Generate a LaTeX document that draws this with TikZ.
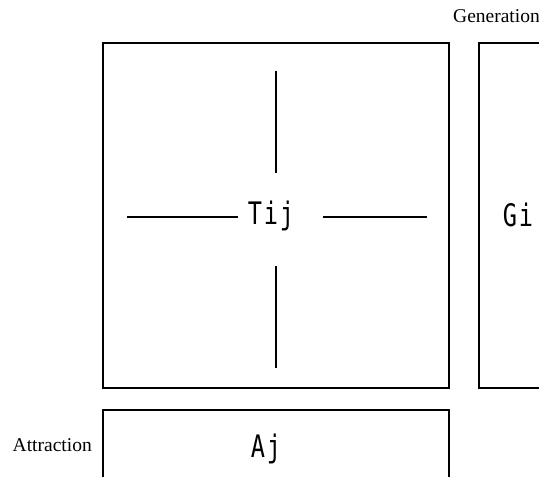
\documentclass[tikz,border=0pt]{standalone}
\usepackage{fontspec}
\setmainfont{Liberation Serif}
\newfontfamily\gothicfont[FakeStretch=0.76,LetterSpace=6]{DejaVu Sans Mono}
\tikzset{
  cell/.style={draw, line width=1.6pt, inner sep=0pt},
  cellname/.style={font=\gothicfont\fontsize{31}{31}\selectfont, inner sep=0pt},
  sidename/.style={font=\fontsize{19.5}{19.5}\selectfont, inner sep=0pt},
  crossline/.style={line width=1.2pt}
}
\begin{document}
\begin{tikzpicture}[x=1pt,y=-1pt]
                \clip (0,0) rectangle (539,477);
                % matrix and its margins
                \node[cell, anchor=north west, minimum width=346pt, minimum height=345pt] (tij) at (102,42) {};
                \node[cell, anchor=north west, minimum width=120pt, minimum height=345pt] (gi) at (478,42) {};
                \node[cell, anchor=north west, minimum width=346pt, minimum height=100pt] (aj) at (102,409) {};
                \node[cellname] (tijname) at (271,216) {Tij};
                \node[cellname] (giname) at (518,215) {Gi};
                \node[cellname] (ajname) at (266,449) {Aj};
                \node[sidename, anchor=west] (gen) at (453,16) {Generation};
                \node[sidename, anchor=east] (attr) at (92,445) {Attraction};
                % cross through the cell
                \coordinate (c) at (276,217);
                \draw[crossline] ([xshift=-149pt]c) -- ([xshift=-38pt]c);
                \draw[crossline] ([xshift=47pt]c) -- ([xshift=151pt]c);
                \draw[crossline] ([yshift=146pt]c) -- ([yshift=44pt]c);
                \draw[crossline] ([yshift=-49pt]c) -- ([yshift=-151pt]c);
            \end{tikzpicture}
\end{document}
